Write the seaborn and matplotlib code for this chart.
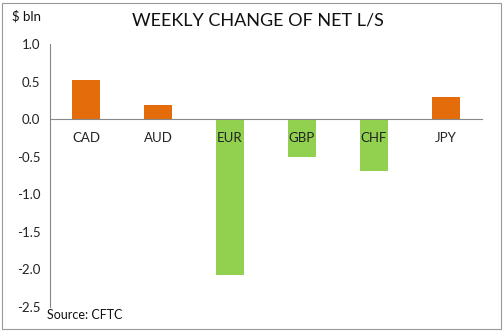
import matplotlib
matplotlib.use("Agg")
import matplotlib.pyplot as plt
import seaborn as sns
import numpy as np
from matplotlib.patches import Rectangle
from matplotlib.ticker import FixedLocator

categories = ["CAD", "AUD", "EUR", "GBP", "CHF", "JPY"]
values = [0.52, 0.19, -2.07, -0.50, -0.69, 0.30]
bar_colors = ["#E46C0A", "#E46C0A", "#92D050", "#92D050", "#92D050", "#E46C0A"]
y_ticks = [1.0, 0.5, 0.0, -0.5, -1.0, -1.5, -2.0, -2.5]

sns.set_style("white")
plt.rcParams['font.family'] = ['Lato', 'DejaVu Sans']

fig = plt.figure(figsize=(5.04, 3.31), dpi=100)
ax = fig.add_axes([50/504, 1-307/331, 432/504, (307-44)/331])

sns.barplot(x=categories, y=values, hue=categories, palette=bar_colors,
            legend=False, width=0.4, ax=ax, saturation=1, edgecolor="none")

ax.set_axisbelow(False)
ax.set_ylim(-2.5, 1.0)
ax.set_xlim(-0.5, 5.5)
ax.set_yticks(y_ticks)
ax.set_yticklabels([f"{t:.1f}" for t in y_ticks], fontsize=9.5, color="#222222")
ax.tick_params(axis="y", direction="out", length=4, width=0.8, color="#888888", pad=3)

for s in ["top", "right"]:
    ax.spines[s].set_visible(False)
ax.spines["left"].set_color("#888888")
ax.spines["bottom"].set_color("#888888")
ax.spines["bottom"].set_position(("data", 0))
ax.spines["left"].set_linewidth(0.8)
ax.spines["bottom"].set_linewidth(0.8)

ax.set_xticks(range(len(categories)))
ax.set_xticklabels(categories, fontsize=9.5, color="#222222")
ax.tick_params(axis="x", which="major", length=0, pad=9)
ax.xaxis.set_minor_locator(FixedLocator(np.arange(-0.5, 6.0, 1.0)))
ax.tick_params(axis="x", which="minor", direction="out", length=4, width=0.8, color="#888888")
ax.set_xlabel("")
ax.set_ylabel("")

fig.text(258/504, 1-20/331, "WEEKLY CHANGE OF NET L/S", ha="center", va="center",
         fontsize=13, color="#111111")
fig.text(12/504, 1-16/331, "$ bln", ha="left", va="center", fontsize=9.5, color="#111111")
fig.text(47/504, 1-315/331, "Source: CFTC", ha="left", va="center", fontsize=9, color="#111111")

fig.patches.append(Rectangle((2/504, 2/331), 1-5/504, 1-5/331, transform=fig.transFigure,
                             fill=False, edgecolor="#999999", linewidth=0.8))

fig.savefig("out.png", dpi=100, facecolor="white")
